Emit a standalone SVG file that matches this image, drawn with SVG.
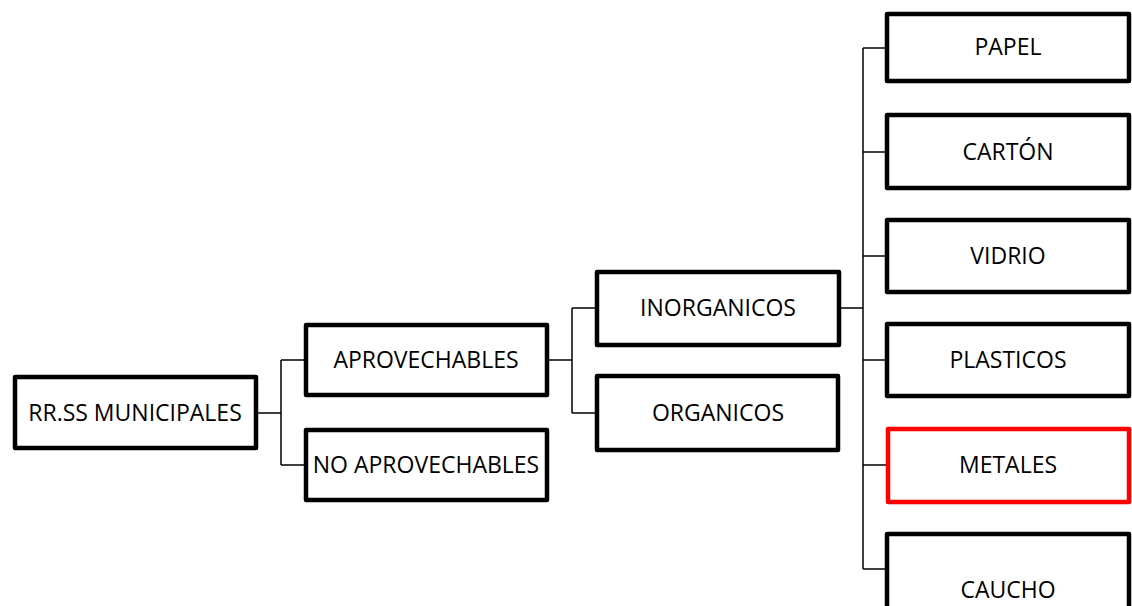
<svg xmlns="http://www.w3.org/2000/svg" width="1132" height="606" viewBox="0 0 1132 606">
<style>
.box{fill:#fff;stroke:#000;stroke-width:4.5;stroke-linejoin:round}
.red{stroke:#ff0000}
.lbl{font-family:"Open Sans","Noto Sans",sans-serif;font-size:23px;fill:#000;text-anchor:middle;dominant-baseline:central}
.con{fill:none;stroke:#000;stroke-width:1.5}
</style>
<rect width="1132" height="606" fill="#fff"/>
<g id="connectors">
<path class="con" d="M258 413H281M281 360V465M281 360H306M281 465H306"/>
<path class="con" d="M549 360H572M572 308V413M572 308H597M572 413H597"/>
<path class="con" d="M841 308H863M863 48V569M863 48H887M863 152H887M863 256H887M863 360H887M863 465H887M863 569H887"/>
</g>
<g id="rrss"><rect class="box" x="15" y="377" width="241" height="71"/><text class="lbl" x="135" y="412">RR.SS MUNICIPALES</text></g>
<g id="aprovechables"><rect class="box" x="306" y="325" width="241" height="70"/><text class="lbl" x="426" y="359">APROVECHABLES</text></g>
<g id="noaprovechables"><rect class="box" x="306" y="430" width="241" height="70"/><text class="lbl" x="426" y="464">NO APROVECHABLES</text></g>
<g id="inorganicos"><rect class="box" x="597" y="272" width="242" height="73"/><text class="lbl" x="718" y="307">INORGANICOS</text></g>
<g id="organicos"><rect class="box" x="597" y="376" width="241" height="74"/><text class="lbl" x="718" y="412">ORGANICOS</text></g>
<g id="papel"><rect class="box" x="887" y="14" width="242" height="67"/><text class="lbl" x="1008" y="46">PAPEL</text></g>
<g id="carton"><rect class="box" x="887" y="115" width="242" height="73"/><text class="lbl" x="1008" y="151">CARTÓN</text></g>
<g id="vidrio"><rect class="box" x="887" y="220" width="242" height="72"/><text class="lbl" x="1008" y="255">VIDRIO</text></g>
<g id="plasticos"><rect class="box" x="887" y="324" width="242" height="72"/><text class="lbl" x="1008" y="359">PLASTICOS</text></g>
<g id="metales"><rect class="box red" x="888" y="429" width="241" height="73"/><text class="lbl" x="1008" y="464">METALES</text></g>
<g id="caucho"><rect class="box" x="887" y="534" width="242" height="80"/><text class="lbl" x="1008" y="589">CAUCHO</text></g>
</svg>
